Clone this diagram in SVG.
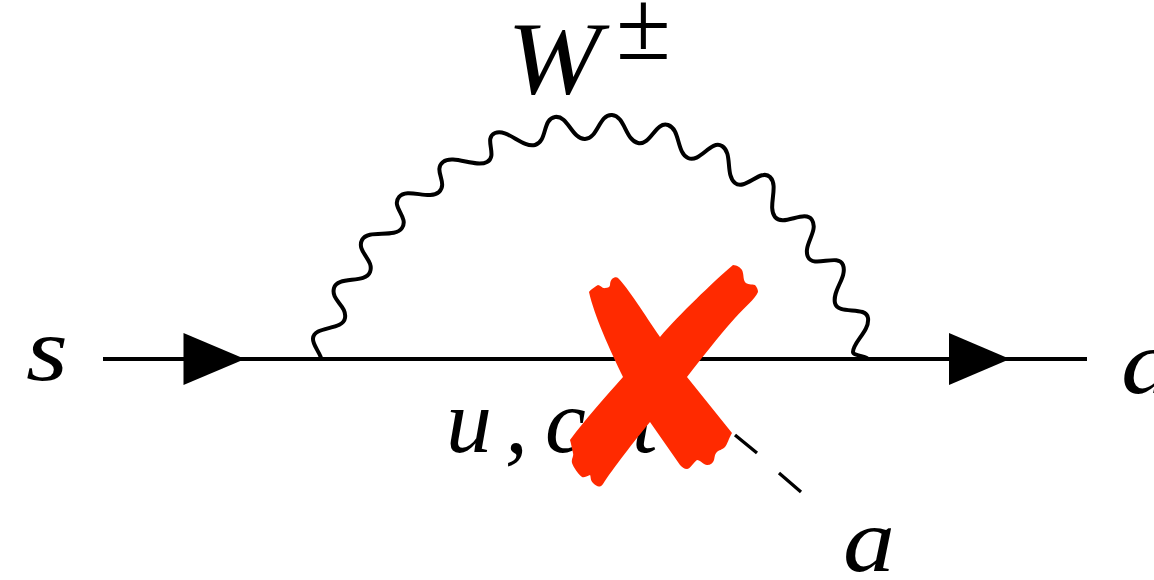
<svg xmlns="http://www.w3.org/2000/svg" width="1154" height="580" viewBox="0 0 1154 580">
<style>
.t{font-family:"Liberation Serif","Times New Roman",serif;font-style:italic;fill:#000;font-size:92px}
.l{fill:none;stroke:#000;stroke-width:4}
</style>
<rect width="1154" height="580" fill="#fff"/>
<g id="connectors">
<path id="fermion" class="l" d="M103,359H1087"/>
<path id="wave" class="l" stroke-linecap="round" d="M320.700,357C318,350 312.500,344 313,338.500C313.900,325.500 342.900,330.800 345,318C347.100,305.200 330.600,300.500 334,288C337.400,275.500 365.300,284.100 370,272C374.700,259.900 356.100,251.600 362,240C367.900,228.400 394.700,238.800 402,228C409.300,217.200 390.700,207 399,197C407.300,187 429.500,200.800 439,192C448.500,183.200 432.700,169.900 443,162C453.300,154.100 475.600,168.200 487,162C498.400,155.800 483,138.200 495,133C507,127.800 522.400,148.400 535,145C547.600,141.600 542.100,119.100 555,117C567.900,114.900 572,139.500 585,139C598,138.500 599,114 612,115C625,116 625.300,140.300 638,143C650.700,145.700 655.600,121 668,125C680.400,129 676.300,152.400 688,158C699.700,163.600 711,139.200 722,146C733,152.800 725,174.800 735,183C745,191.200 760.800,167.900 770,177C779.200,186.100 767.100,206.700 775,217C782.900,227.300 805.100,209 812,220C818.900,231 802.500,245.300 808,257C813.500,268.700 838.500,252.800 843,265C847.500,277.200 832.100,290.300 835,303C837.900,315.700 866.200,305.100 868,318C869.800,330.900 853,342 853,352C853,355 862,356 867,358"/>
<path id="arrow-in" d="M183.500,333L245,359L183.500,385Z" fill="#000"/>
<path id="arrow-out" d="M949,333L1010,359L949,385Z" fill="#000"/>
<path id="axion" class="l" d="M735,435L757,453M779,473L801,492" style="stroke-width:3.300px"/>
</g>
<g id="label-w"><text class="t" x="507" y="93" style="font-size:103px" textLength="94" lengthAdjust="spacingAndGlyphs">W</text><text x="616" y="59" font-size="100" font-family="'Liberation Serif',serif">±</text></g>
<g id="label-s"><text class="t" x="26" y="380" textLength="42" lengthAdjust="spacingAndGlyphs">s</text></g>
<g id="label-d"><text class="t" x="1121" y="393" textLength="54" lengthAdjust="spacingAndGlyphs">d</text></g>
<g id="label-q"><text class="t" x="446 505 520 545 594 610 632" y="452">u, c, t</text></g>
<g id="label-a"><text class="t" x="843" y="571" textLength="52" lengthAdjust="spacingAndGlyphs">a</text></g>
<g id="cross"><path fill="#ff2a00" d="M589,292C590,290 596,286 598,285C600,285 603,289 605,288C608,288 610,287 610,285C610,282 611,280 612,279C614,277 617,277 618,278C628,288 645,315 660,337C680,314 712,283 733,265C737,265 741,268 742,270C744,274 743,279 745,282C747,285 752,284 755,285C757,287 758,290 758,292C755,299 745,307 735,318C717,338 702,358 687,377L732,433C729,438 727,445 725,447C722,450 719,450 717,452C714,454 715,460 713,462C711,465 708,465 707,465C704,465 700,460 697,460C694,462 690,469 687,469C684,469 682,467 680,465L650,422C635,440 612,470 603,484C600,488 597,487 593,483C590,480 591,476 590,475C587,476 584,478 582,477C578,474 574,468 572,463C571,459 574,456 573,453C572,449 571,443 570,440C585,420 605,397 623,377C610,350 594,315 589,292Z"/></g>
</svg>
